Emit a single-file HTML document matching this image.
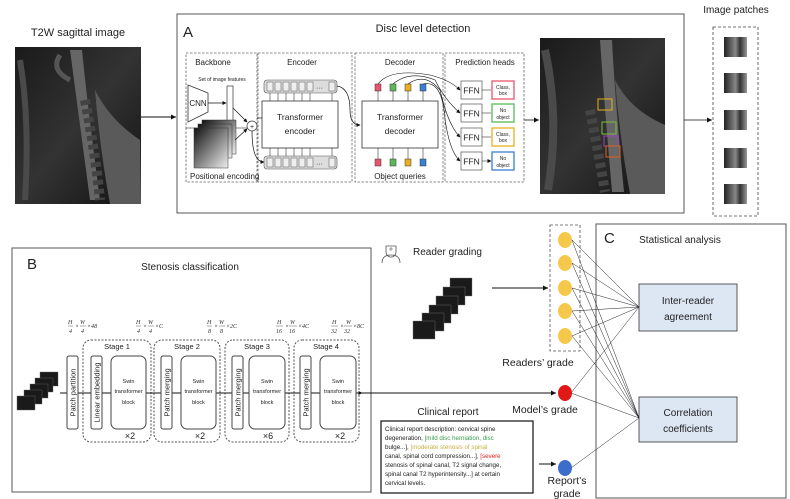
<!DOCTYPE html>
<html><head><meta charset="utf-8"><style>
html,body{margin:0;padding:0;background:#fff}
svg{display:block}
text{font-family:"Liberation Sans",Arial,sans-serif;fill:#222}
.f{font-family:"Liberation Serif",serif;font-style:italic;font-size:6px;fill:#333}
</style></head><body>
<svg width="790" height="499" viewBox="0 0 790 499" xmlns="http://www.w3.org/2000/svg">
<defs>
<marker id="ar" markerWidth="6" markerHeight="6" refX="5" refY="3" orient="auto" markerUnits="userSpaceOnUse"><path d="M0,0.5 L5,3 L0,5.5z" fill="#111"/></marker>
<marker id="as" markerWidth="4" markerHeight="4" refX="3.5" refY="2" orient="auto" markerUnits="userSpaceOnUse"><path d="M0,0 L4,2 L0,4z" fill="#111"/></marker>
<linearGradient id="mri" x1="0" y1="0" x2="1" y2="1">
<stop offset="0" stop-color="#1a1a1a"/><stop offset="0.5" stop-color="#333"/><stop offset="1" stop-color="#111"/></linearGradient>
<linearGradient id="pe" x1="0" y1="0" x2="1" y2="1"><stop offset="0" stop-color="#111"/><stop offset="1" stop-color="#eee"/></linearGradient>
<linearGradient id="patch" x1="0" y1="0" x2="1" y2="0"><stop offset="0" stop-color="#222"/><stop offset="0.5" stop-color="#888"/><stop offset="0.7" stop-color="#333"/><stop offset="1" stop-color="#999"/></linearGradient>
</defs>

<!-- Left MRI -->
<text x="78" y="36" font-size="11" text-anchor="middle">T2W sagittal image</text>
<rect x="15" y="47" width="126" height="157" fill="url(#mri)"/>
<path d="M70,50 Q78,110 90,200 L100,200 Q88,110 82,50z" fill="#666"/>
<path d="M95,90 Q110,120 140,140 L141,204 L110,204 Q100,150 95,90z" fill="#5a5a5a"/>
<path d="M85,100 Q95,150 100,200" stroke="#444" stroke-width="10" fill="none" stroke-dasharray="5,4"/>
<path d="M20,60 Q30,120 25,200" stroke="#4a4a4a" stroke-width="6" fill="none"/>
<path d="M60,55 Q50,70 70,80" stroke="#555" stroke-width="5" fill="none"/>
<line x1="141" y1="117" x2="176" y2="117" stroke="#111" stroke-width="1" marker-end="url(#ar)"/>

<!-- Box A -->
<rect x="177" y="14" width="507" height="199" fill="none" stroke="#555" stroke-width="1"/>
<text x="183" y="37" font-size="15">A</text>
<text x="423" y="32" font-size="11" text-anchor="middle">Disc level detection</text>
<g fill="none" stroke="#666" stroke-width="0.8" stroke-dasharray="2.5,1.5">
<rect x="186" y="53" width="71" height="75"/>
<rect x="186" y="128" width="71" height="54"/>
<rect x="258" y="53" width="94" height="129"/>
<rect x="355" y="53" width="88" height="129"/>
<rect x="445" y="53" width="79" height="129"/>
</g>
<text x="213" y="65" font-size="8" text-anchor="middle">Backbone</text>
<text x="222" y="81" font-size="5" text-anchor="middle">Set of image features</text>
<path d="M188,85 L208,93 L208,112 L188,122z" fill="#fff" stroke="#333" stroke-width="0.8"/>
<text x="198" y="106" font-size="8" text-anchor="middle">CNN</text>
<line x1="208" y1="103" x2="226" y2="103" stroke="#111" stroke-width="0.7" marker-end="url(#as)"/>
<rect x="227" y="86" width="6" height="35" fill="#fff" stroke="#333" stroke-width="0.7"/>
<path d="M233,108 L247,122" stroke="#111" stroke-width="0.7" marker-end="url(#as)"/>
<circle cx="252" cy="126" r="5" fill="#fff" stroke="#333" stroke-width="0.7"/>
<text x="252" y="129" font-size="7" text-anchor="middle" fill="#36c">+</text>
<rect x="202" y="120" width="34" height="34" fill="url(#pe)" stroke="#333" stroke-width="0.5"/>
<rect x="198" y="124" width="34" height="34" fill="url(#pe)" stroke="#333" stroke-width="0.5"/>
<rect x="194" y="128" width="34" height="40" fill="url(#pe)" stroke="#333" stroke-width="0.5"/>
<path d="M235,140 L247,129" stroke="#111" stroke-width="0.7" marker-end="url(#as)"/>
<text x="190" y="179" font-size="8">Positional encoding</text>
<path d="M252,131 Q252,162 264,162" stroke="#111" stroke-width="0.7" fill="none" marker-end="url(#as)"/>
<path d="M257,118 L262,118" stroke="#111" stroke-width="0.7"/>

<text x="302" y="65" font-size="8" text-anchor="middle">Encoder</text>
<g stroke="#555" stroke-width="0.6">
<rect x="264" y="80" width="73" height="13" rx="3" fill="#ddd"/>
<rect x="264" y="156" width="73" height="13" rx="3" fill="#ddd"/>
</g>
<g fill="#eee" stroke="#555" stroke-width="0.5">
<rect x="267" y="82" width="6" height="9"/><rect x="275" y="82" width="6" height="9"/><rect x="283" y="82" width="6" height="9"/><rect x="291" y="82" width="6" height="9"/><rect x="299" y="82" width="6" height="9"/><rect x="307" y="82" width="6" height="9"/><rect x="329" y="82" width="6" height="9"/>
<rect x="267" y="158" width="6" height="9"/><rect x="275" y="158" width="6" height="9"/><rect x="283" y="158" width="6" height="9"/><rect x="291" y="158" width="6" height="9"/><rect x="299" y="158" width="6" height="9"/><rect x="307" y="158" width="6" height="9"/><rect x="329" y="158" width="6" height="9"/>
</g>
<text x="316" y="90" font-size="7">···</text><text x="316" y="166" font-size="7">···</text>
<rect x="262" y="101" width="76" height="47" fill="#fff" stroke="#333" stroke-width="0.8"/>
<text x="300" y="120" font-size="8.5" text-anchor="middle">Transformer</text>
<text x="300" y="134" font-size="8.5" text-anchor="middle">encoder</text>
<g stroke="#111" stroke-width="0.5">
<path d="M270,101V93M278,101V93M286,101V93M294,101V93M302,101V93M310,101V93M332,101V93"/>
<path d="M270,156V148M278,156V148M286,156V148M294,156V148M302,156V148M310,156V148M332,156V148"/>
</g>
<path d="M337,86 Q350,88 350,110 Q350,125 360,125" stroke="#111" stroke-width="0.7" fill="none" marker-end="url(#as)"/>

<text x="400" y="65" font-size="8" text-anchor="middle">Decoder</text>
<rect x="362" y="101" width="76" height="47" fill="#fff" stroke="#333" stroke-width="0.8"/>
<text x="400" y="120" font-size="8.5" text-anchor="middle">Transformer</text>
<text x="400" y="134" font-size="8.5" text-anchor="middle">decoder</text>
<g stroke="#333" stroke-width="0.5">
<rect x="375" y="84" width="6" height="7" fill="#e8546e"/><rect x="390" y="84" width="6" height="7" fill="#5cb85c"/><rect x="405" y="84" width="6" height="7" fill="#e8b020"/><rect x="420" y="84" width="6" height="7" fill="#3a7fd0"/>
<rect x="375" y="159" width="6" height="7" fill="#e8546e"/><rect x="390" y="159" width="6" height="7" fill="#5cb85c"/><rect x="405" y="159" width="6" height="7" fill="#e8b020"/><rect x="420" y="159" width="6" height="7" fill="#3a7fd0"/>
</g>
<g stroke="#111" stroke-width="0.5"><path d="M378,101V91M393,101V91M408,101V91M423,101V91M378,159V148M393,159V148M408,159V148M423,159V148"/></g>
<text x="400" y="179" font-size="8" text-anchor="middle">Object queries</text>
<g stroke="#111" stroke-width="0.6" fill="none">
<path d="M378,84 Q390,68 430,75 Q450,80 460,90" marker-end="url(#as)"/>
<path d="M393,84 Q410,70 435,80 Q445,100 460,113" marker-end="url(#as)"/>
<path d="M408,84 Q425,72 440,90 Q448,125 460,137" marker-end="url(#as)"/>
<path d="M423,84 Q440,80 444,110 Q448,150 460,161" marker-end="url(#as)"/>
</g>

<text x="485" y="65" font-size="8" text-anchor="middle">Prediction heads</text>
<g font-size="8.5">
<rect x="461" y="81" width="21" height="18" fill="#fff" stroke="#555" stroke-width="0.7"/><text x="471.5" y="93.5" text-anchor="middle">FFN</text>
<rect x="461" y="104" width="21" height="18" fill="#fff" stroke="#555" stroke-width="0.7"/><text x="471.5" y="116.5" text-anchor="middle">FFN</text>
<rect x="461" y="128" width="21" height="18" fill="#fff" stroke="#555" stroke-width="0.7"/><text x="471.5" y="140.5" text-anchor="middle">FFN</text>
<rect x="461" y="152" width="21" height="18" fill="#fff" stroke="#555" stroke-width="0.7"/><text x="471.5" y="164.5" text-anchor="middle">FFN</text>
</g>
<g stroke="#111" stroke-width="0.6"><path d="M482,90H491M482,113H491M482,137H491M482,161H491" marker-end="url(#as)"/></g>
<g fill="#fff" stroke-width="1.3">
<rect x="492" y="81" width="22" height="18" stroke="#e8546e"/><rect x="492" y="104" width="22" height="18" stroke="#5cb85c"/><rect x="492" y="128" width="22" height="18" stroke="#e8b020"/><rect x="492" y="152" width="22" height="18" stroke="#3a7fd0"/>
</g>
<g font-size="5" text-anchor="middle">
<text x="503" y="89">Class,</text><text x="503" y="95">box</text>
<text x="503" y="112">No</text><text x="503" y="119">object</text>
<text x="503" y="136">Class,</text><text x="503" y="142">box</text>
<text x="503" y="160">No</text><text x="503" y="167">object</text>
</g>
<line x1="524" y1="120" x2="539" y2="120" stroke="#111" stroke-width="0.8" marker-end="url(#ar)"/>

<!-- Right MRI -->
<rect x="540" y="38" width="125" height="156" fill="url(#mri)"/>
<path d="M600,40 Q604,100 612,192 L624,192 Q615,100 612,40z" fill="#666"/>
<path d="M615,80 Q630,110 665,125 L665,194 L630,194 Q620,140 615,80z" fill="#5a5a5a"/>
<path d="M590,110 Q598,150 605,192" stroke="#444" stroke-width="10" fill="none" stroke-dasharray="5,4"/>
<path d="M545,50 Q560,120 548,190" stroke="#4a4a4a" stroke-width="8" fill="none"/>
<rect x="598" y="99" width="14" height="11" fill="none" stroke="#e8b020" stroke-width="1"/>
<rect x="602" y="122" width="14" height="12" fill="none" stroke="#7cbf3c" stroke-width="1"/>
<rect x="604" y="136" width="14" height="10" fill="none" stroke="#a040c0" stroke-width="1"/>
<rect x="606" y="146" width="14" height="11" fill="none" stroke="#e06020" stroke-width="1"/>
<line x1="684" y1="120" x2="712" y2="120" stroke="#111" stroke-width="0.8" marker-end="url(#ar)"/>

<!-- Image patches -->
<text x="736" y="13" font-size="10" text-anchor="middle">Image patches</text>
<rect x="713" y="27" width="45" height="189" fill="none" stroke="#444" stroke-width="0.8" stroke-dasharray="3,2"/>
<g fill="url(#patch)">
<rect x="724" y="37" width="23" height="20"/><rect x="724" y="73" width="23" height="20"/><rect x="724" y="110" width="23" height="20"/><rect x="724" y="148" width="23" height="20"/><rect x="724" y="184" width="23" height="20"/>
</g>

<!-- Box B -->
<rect x="12" y="248" width="359" height="244" fill="none" stroke="#555" stroke-width="1"/>
<text x="27" y="269" font-size="15">B</text>
<text x="190" y="270" font-size="10" text-anchor="middle">Stenosis classification</text>
<g class="f">
<text x="68" y="324" class="f">H</text><line x1="68" y1="326" x2="73" y2="326" stroke="#333" stroke-width="0.4"/><text x="69" y="333" class="f">4</text><text x="75" y="328" class="f">×</text>
<text x="80" y="324" class="f">W</text><line x1="80" y1="326" x2="86" y2="326" stroke="#333" stroke-width="0.4"/><text x="81" y="333" class="f">4</text><text x="87" y="328" class="f">×48</text>
<text x="136" y="324" class="f">H</text><line x1="136" y1="326" x2="141" y2="326" stroke="#333" stroke-width="0.4"/><text x="137" y="333" class="f">4</text><text x="143" y="328" class="f">×</text>
<text x="148" y="324" class="f">W</text><line x1="148" y1="326" x2="154" y2="326" stroke="#333" stroke-width="0.4"/><text x="149" y="333" class="f">4</text><text x="155" y="328" class="f">×C</text>
<text x="207" y="324" class="f">H</text><line x1="207" y1="326" x2="212" y2="326" stroke="#333" stroke-width="0.4"/><text x="208" y="333" class="f">8</text><text x="214" y="328" class="f">×</text>
<text x="219" y="324" class="f">W</text><line x1="219" y1="326" x2="225" y2="326" stroke="#333" stroke-width="0.4"/><text x="220" y="333" class="f">8</text><text x="226" y="328" class="f">×2C</text>
<text x="277" y="324" class="f">H</text><line x1="276" y1="326" x2="283" y2="326" stroke="#333" stroke-width="0.4"/><text x="276" y="333" class="f">16</text><text x="285" y="328" class="f">×</text>
<text x="290" y="324" class="f">W</text><line x1="289" y1="326" x2="297" y2="326" stroke="#333" stroke-width="0.4"/><text x="289" y="333" class="f">16</text><text x="298" y="328" class="f">×4C</text>
<text x="332" y="324" class="f">H</text><line x1="331" y1="326" x2="338" y2="326" stroke="#333" stroke-width="0.4"/><text x="331" y="333" class="f">32</text><text x="340" y="328" class="f">×</text>
<text x="346" y="324" class="f">W</text><line x1="344" y1="326" x2="352" y2="326" stroke="#333" stroke-width="0.4"/><text x="344" y="333" class="f">32</text><text x="353" y="328" class="f">×8C</text>
</g>
<g fill="none" stroke="#555" stroke-width="1" stroke-dasharray="2,1.5">
<rect x="83" y="340" width="68" height="102" rx="8"/>
<rect x="154" y="340" width="66" height="102" rx="8"/>
<rect x="225" y="340" width="64" height="102" rx="8"/>
<rect x="294" y="340" width="65" height="102" rx="8"/>
</g>
<g font-size="7.5" text-anchor="middle">
<text x="117" y="349">Stage 1</text><text x="187" y="349">Stage 2</text><text x="257" y="349">Stage 3</text><text x="326" y="349">Stage 4</text>
</g>
<g fill="#1a1a1a" stroke="#666" stroke-width="0.4">
<rect x="40" y="372" width="18" height="14"/><rect x="35" y="378" width="18" height="14"/><rect x="30" y="384" width="18" height="14"/><rect x="24" y="390" width="18" height="14"/><rect x="17" y="396" width="18" height="14"/>
</g>
<line x1="60" y1="393" x2="540" y2="393" stroke="#111" stroke-width="0.9"/>
<g stroke="#111" stroke-width="0.7">
<path d="M60,393H67M78,393H91M102,393H111M146,393H161M172,393H181M216,393H232M243,393H249M285,393H300M311,393H320M356,393H362" marker-end="url(#as)"/>
</g>
<g fill="#fff" stroke="#444" stroke-width="1">
<rect x="67" y="356" width="11" height="73" rx="2"/>
<rect x="91" y="356" width="11" height="73" rx="2"/>
<rect x="161" y="356" width="11" height="73" rx="2"/>
<rect x="232" y="356" width="11" height="73" rx="2"/>
<rect x="300" y="356" width="11" height="73" rx="2"/>
<rect x="111" y="356" width="35" height="73" rx="6"/>
<rect x="181" y="356" width="35" height="73" rx="6"/>
<rect x="249" y="356" width="36" height="73" rx="6"/>
<rect x="320" y="356" width="36" height="73" rx="6"/>
</g>
<g font-size="7.5" text-anchor="middle">
<text transform="translate(75.5,392.5) rotate(-90)">Patch partition</text>
<text transform="translate(99.5,392.5) rotate(-90)">Linear embedding</text>
<text transform="translate(169.5,392.5) rotate(-90)">Patch merging</text>
<text transform="translate(240.5,392.5) rotate(-90)">Patch merging</text>
<text transform="translate(308.5,392.5) rotate(-90)">Patch merging</text>
</g>
<g font-size="5.5" text-anchor="middle" fill="#333">
<text x="128.5" y="383">Swin</text><text x="128.5" y="393">transformer</text><text x="128.5" y="404">block</text>
<text x="198.5" y="383">Swin</text><text x="198.5" y="393">transformer</text><text x="198.5" y="404">block</text>
<text x="267" y="383">Swin</text><text x="267" y="393">transformer</text><text x="267" y="404">block</text>
<text x="338" y="383">Swin</text><text x="338" y="393">transformer</text><text x="338" y="404">block</text>
</g>
<g font-size="9" text-anchor="middle">
<text x="130" y="439">×2</text><text x="200" y="439">×2</text><text x="268" y="439">×6</text><text x="340" y="439">×2</text>
</g>
<line x1="371" y1="393" x2="556" y2="393" stroke="#111" stroke-width="0.9" marker-end="url(#ar)"/>

<!-- Reader grading -->
<g stroke="#555" stroke-width="0.8" fill="none">
<path d="M386,246 h10 v6 a5,5 0 0 1 -10,0z"/>
<path d="M382,263 q0,-8 9,-8 q9,0 9,8"/>
<path d="M389,249 h4 M391,247 v4" stroke-width="0.6"/>
</g>
<text x="413" y="255" font-size="10">Reader grading</text>
<g fill="#1a1a1a" stroke="#777" stroke-width="0.4">
<rect x="450" y="278" width="22" height="18"/><rect x="443" y="287" width="22" height="18"/><rect x="436" y="296" width="22" height="18"/><rect x="429" y="305" width="22" height="18"/><rect x="422" y="313" width="22" height="18"/><rect x="413" y="321" width="22" height="18"/>
</g>
<line x1="492" y1="288" x2="548" y2="288" stroke="#111" stroke-width="0.9" marker-end="url(#ar)"/>
<rect x="550" y="225" width="30" height="126" fill="none" stroke="#555" stroke-width="0.8" stroke-dasharray="3,2"/>

<!-- Box C -->
<rect x="596" y="224" width="190" height="274" fill="none" stroke="#555" stroke-width="1"/>
<text x="604" y="243" font-size="15">C</text>
<text x="680" y="243" font-size="10" text-anchor="middle">Statistical analysis</text>
<rect x="639" y="284" width="98" height="47" fill="#dde6f3" stroke="#333" stroke-width="0.8"/>
<text x="688" y="304" font-size="10" text-anchor="middle">Inter-reader</text>
<text x="688" y="320" font-size="10" text-anchor="middle">agreement</text>
<rect x="639" y="397" width="98" height="45" fill="#dde6f3" stroke="#333" stroke-width="0.8"/>
<text x="688" y="416" font-size="10" text-anchor="middle">Correlation</text>
<text x="688" y="432" font-size="10" text-anchor="middle">coefficients</text>

<g stroke="#222" stroke-width="0.5">
<path d="M572,240L639,307M572,263L639,307M572,288L639,307M572,311L639,307M572,336L639,307"/>
<path d="M572,240L639,418M572,263L639,418M572,288L639,418M572,311L639,418M572,336L639,418"/>
<path d="M571,393L639,307M571,393L639,418M571,468L639,418"/>
</g>
<g fill="#f5c84c">
<ellipse cx="565" cy="240" rx="7" ry="8"/><ellipse cx="565" cy="263" rx="7" ry="8"/><ellipse cx="565" cy="288" rx="7" ry="8"/><ellipse cx="565" cy="311" rx="7" ry="8"/><ellipse cx="565" cy="336" rx="7" ry="8"/>
</g>
<text x="538" y="366" font-size="10.5" text-anchor="middle">Readers’ grade</text>
<ellipse cx="565" cy="393" rx="7" ry="8" fill="#e01818"/>
<text x="545" y="413" font-size="10.5" text-anchor="middle">Model’s grade</text>
<ellipse cx="565" cy="468" rx="7" ry="8" fill="#3a6ec8"/>
<text x="567" y="484" font-size="10.5" text-anchor="middle">Report’s</text>
<text x="567" y="497" font-size="10.5" text-anchor="middle">grade</text>
<line x1="539" y1="464" x2="556" y2="464" stroke="#111" stroke-width="0.9" marker-end="url(#ar)"/>

<text x="448" y="415" font-size="10" text-anchor="middle">Clinical report</text>
<rect x="381" y="421" width="152" height="72" fill="#fff" stroke="#111" stroke-width="1.2"/>
<g font-size="6.2">
<text x="385" y="431">Clinical report description: cervical spine</text>
<text x="385" y="440">degeneration, <tspan fill="#3a9a4a">[mild disc herniation, disc</tspan></text>
<text x="385" y="449" fill="#3a9a4a">bulge...]<tspan fill="#222">, </tspan><tspan fill="#c8b040">[moderate stenosis of spinal</tspan></text>
<text x="385" y="458" fill="#c8b040">canal, spinal cord compression...]<tspan fill="#222">, </tspan><tspan fill="#e02020">[severe</tspan></text>
<text x="385" y="467" fill="#e02020">stenosis of spinal canal, T2 signal change,</text>
<text x="385" y="476" fill="#e02020">spinal canal T2 hyperintensity...]<tspan fill="#222"> at certain</tspan></text>
<text x="385" y="485">cervical levels.</text>
</g>
</svg>
</body></html>
